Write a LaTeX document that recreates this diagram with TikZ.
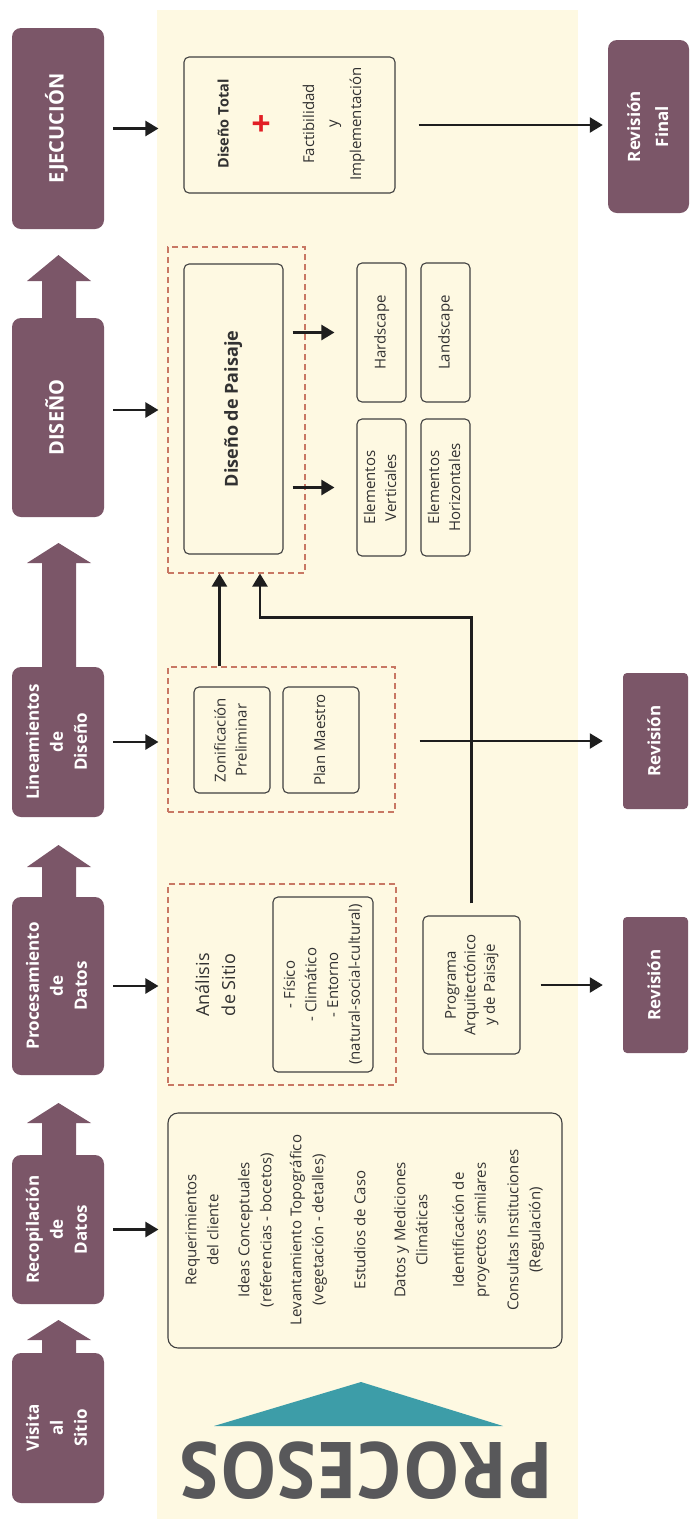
\documentclass[tikz,border=0pt]{standalone}
\usepackage{fontspec}
\setmainfont{Open Sans}
\usepackage{graphicx}
\usetikzlibrary{arrows.meta,calc}
\definecolor{plum}{RGB}{123,86,104}
\definecolor{cream}{RGB}{254,249,226}
\definecolor{dashc}{RGB}{200,120,100}
\definecolor{teal2}{RGB}{61,157,168}
\definecolor{pgray}{RGB}{88,88,90}
\definecolor{ink}{RGB}{30,30,30}
\definecolor{txt}{RGB}{50,50,50}
\definecolor{plusred}{RGB}{226,30,36}
\newcommand{\vtxt}[3]{\rotatebox{90}{\fontsize{#1}{#2}\selectfont\begin{tabular}{@{}c@{}}#3\end{tabular}}}
\newcommand{\blockup}[3]{\fill[plum] (42,#3) -- (42,#2) -- (27,#2) -- (58.5,#1) -- (91,#2) -- (76,#2) -- (76,#3) -- cycle;}
\tikzset{
  pbox/.style={fill=plum, rounded corners=9pt, inner sep=0pt, text=white, font=\bfseries},
  ibox/.style={draw=ink!85, line width=1.1pt, fill=cream, rounded corners=5pt, inner sep=0pt, text=txt},
  dbox/.style={draw=dashc, line width=1.1pt, dash pattern=on 6pt off 4pt, inner sep=0pt},
  arr/.style={draw=ink, line width=2.4pt, -{Triangle[length=13pt,width=15pt]}},
  lbl/.style={inner sep=0pt, text=txt},
}
\begin{document}
\begin{tikzpicture}[x=1pt,y=-1pt]
\useasboundingbox (0,0) rectangle (691,1519);
\fill[white] (0,0) rectangle (691,1519);
\fill[cream] (157,10) rectangle (578,1519);

% left column
\blockup{255}{281}{320}
\blockup{543}{563}{669}
\blockup{845}{867}{899}
\blockup{1103}{1123}{1157}
\blockup{1320}{1340}{1355}
\node[pbox, minimum width=92pt, minimum height=201pt] (ejec) at (58,128.5) {\vtxt{20}{24}{EJECUCIÓN}};
\node[pbox, minimum width=92pt, minimum height=199pt] (dis) at (58,417.5) {\vtxt{20}{24}{DISEÑO}};
\node[pbox, minimum width=92pt, minimum height=150pt] (lin) at (58,742) {\vtxt{17}{24}{Lineamientos\\de\\Diseño}};
\node[pbox, minimum width=92pt, minimum height=178pt] (proc) at (58,986) {\vtxt{17}{24}{Procesamiento\\de\\Datos}};
\node[pbox, minimum width=92pt, minimum height=149pt] (recop) at (58,1229.5) {\vtxt{17}{24}{Recopilación\\de\\Datos}};
\node[pbox, minimum width=92pt, minimum height=150pt] (vis) at (58,1428) {\vtxt{17}{24}{Visita\\al\\Sitio}};

% right column
\node[pbox, minimum width=81pt, minimum height=173pt] (rf) at (648.5,126.5) {\vtxt{17}{28}{Revisión\\Final}};
\node[pbox, rounded corners=4pt, minimum width=65pt, minimum height=136pt] (rev2) at (655.5,741) {\vtxt{17}{24}{Revisión}};
\node[pbox, rounded corners=4pt, minimum width=65pt, minimum height=136pt] (rev1) at (655.5,985) {\vtxt{17}{24}{Revisión}};

% execution
\node[ibox, minimum width=211pt, minimum height=136pt] (dt) at (289.5,125) {};
\node[lbl, font=\bfseries] (dtt) at (225,124) {\vtxt{14.5}{18}{Diseño Total}};
\node[lbl, text=plusred, font=\bfseries] (plus) at (263,124) {\rotatebox{90}{\fontsize{34}{34}\selectfont +}};
\node[lbl] (fyi) at (333,124) {\vtxt{15}{23.5}{Factibilidad\\y\\Implementación}};

% design
\node[dbox, minimum width=137pt, minimum height=326pt] (dpai) at (236.5,410) {};
\node[ibox, minimum width=99pt, minimum height=290pt, font=\bfseries] (pai) at (233.5,409) {\vtxt{18}{22}{Diseño de Paisaje}};
\node[ibox, minimum width=49pt, minimum height=139pt] (hard) at (381.5,332.5) {\vtxt{15}{21}{Hardscape}};
\node[ibox, minimum width=49pt, minimum height=139pt] (land) at (445.5,332.5) {\vtxt{15}{21}{Landscape}};
\node[ibox, minimum width=49pt, minimum height=137pt] (ev) at (381.5,487.5) {\vtxt{15}{21}{Elementos\\Verticales}};
\node[ibox, minimum width=49pt, minimum height=137pt] (eh) at (445.5,487.5) {\vtxt{15}{21}{Elementos\\Horizontales}};

% guidelines
\node[dbox, minimum width=227pt, minimum height=145pt] (dlin) at (281.5,739.5) {};
\node[ibox, minimum width=76pt, minimum height=106pt] (zon) at (232,740) {\vtxt{15}{21}{Zonificación\\Preliminar}};
\node[ibox, minimum width=76pt, minimum height=106pt] (plan) at (321,740) {\vtxt{15}{21}{Plan Maestro}};

% processing
\node[dbox, minimum width=228pt, minimum height=201pt] (ana) at (282,984.5) {};
\node[lbl] (anat) at (217,985) {\vtxt{18}{26}{Análisis\\de Sitio}};
\node[ibox, minimum width=100pt, minimum height=175pt] (fis) at (323,984.5) {\vtxt{15}{21.7}{- Físico\\- Climático\\- Entorno\\(natural-social-cultural)}};
\node[ibox, minimum width=97pt, minimum height=138pt] (prog) at (471.5,985) {\vtxt{15}{19.5}{Programa\\Arquitectónico\\y de Paisaje}};

% data collection
\node[ibox, rounded corners=10pt, minimum width=394pt, minimum height=235pt] (big) at (365,1230.5) {};
\node[lbl] (r1) at (203,1230) {\vtxt{15}{22}{Requerimientos\\del cliente}};
\node[lbl] (r2) at (256,1230) {\vtxt{15}{22}{Ideas Conceptuales\\(referencias - bocetos)}};
\node[lbl] (r3) at (308,1230) {\vtxt{15}{22}{Levantamiento Topográfico\\(vegetación - detalles)}};
\node[lbl] (r4) at (361,1230) {\vtxt{15}{22}{Estudios de Caso}};
\node[lbl] (r5) at (412,1230) {\vtxt{15}{22}{Datos y Mediciones\\Climáticas}};
\node[lbl] (r6) at (470.5,1230) {\vtxt{15}{22}{Identificación de\\proyectos similares}};
\node[lbl] (r7) at (525,1230) {\vtxt{15}{22}{Consultas Instituciones\\(Regulación)}};

% PROCESOS
\fill[teal2] (214,1426) -- (361,1382) -- (503,1426) -- cycle;
\node[inner sep=0pt, text=pgray, font=\bfseries, rotate=180] (proctitle) at (366.5,1471) {\resizebox{373pt}{57pt}{\fontsize{80}{80}\selectfont PROCESOS}};

% connectors
\draw[arr, shorten <=9pt, shorten >=25pt] (ejec.east) -- (ejec.east -| dt.west);
\draw[arr, shorten <=9pt, shorten >=9pt] (dis.east |- dpai.west) -- (dpai.west);
\draw[arr, shorten <=9pt, shorten >=9pt] (lin.east) -- (lin.east -| dlin.west);
\draw[arr, shorten <=9pt, shorten >=9pt] (proc.east) -- (proc.east -| ana.west);
\draw[arr, shorten <=9pt, shorten >=9pt] (recop.east) -- (recop.east -| big.west);
\draw[arr, shorten <=23pt, shorten >=5pt] (dt.east) -- (dt.east -| rf.west);
\draw[arr, shorten <=9pt, shorten >=22pt] (pai.east |- hard.west) -- (hard.west);
\draw[arr, shorten <=9pt, shorten >=22pt] (pai.east |- ev.west) -- (ev.west);
\draw[arr, shorten <=24pt, shorten >=20pt] (dlin.east |- rev2.west) -- (rev2.west);
\draw[arr, shorten <=20pt, shorten >=20pt] (prog.east |- rev1.west) -- (rev1.west);
\path ($(dlin.north west)+(52,0)$) coordinate (a1);
\draw[arr] (a1) -- (a1 |- dpai.south);
\path ($(dpai.south)+(23.5,0)$) coordinate (a2);
\draw[arr, shorten <=12pt] (prog.north) |- ($(a2)+(0,44)$) -- (a2);
\end{tikzpicture}
\end{document}
